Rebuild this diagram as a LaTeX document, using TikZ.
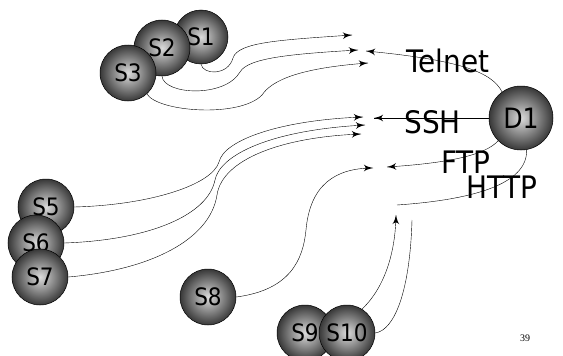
\documentclass[tikz,border=0pt]{standalone}
\usepackage{fontspec}
\usepackage{tikz}
\usetikzlibrary{arrows}
\usetikzlibrary{decorations.markings}
\usetikzlibrary{backgrounds}
\newfontfamily\protofont[FakeStretch=0.9]{DejaVu Sans}
\newfontfamily\pagefont{Liberation Serif}
\tikzset{->/.style = {decoration={markings,
                                  mark=at position 1 with {\arrow[scale=2.3]{latex'}}},
                      postaction={decorate}}}
\tikzset{host/.style = {circle, draw=black, line width=0.5pt, minimum size=56pt, inner sep=0pt,
                        shading=radial, inner color=gray!28, outer color=black!78,
                        font=\protofont\fontsize{24}{24}\selectfont},
         proto/.style = {anchor=base west, inner sep=0pt,
                         font=\protofont\fontsize{31}{31}\selectfont}}

\begin{document}
\begin{tikzpicture}[x=1pt, y=-1pt, line width=0.6pt]
      \useasboundingbox (0, 0) rectangle (563, 356);

      \node [host, minimum size=54pt] (s1) at (201, 37) {S1};
      \node [host] (s2) at (162, 48) {S2};
      \node [host] (s3) at (128, 73) {S3};
      \node [host] (s5) at (46, 207) {S5};
      \node [host] (s6) at (36, 243) {S6};
      \node [host] (s7) at (40, 277) {S7};
      \node [host] (s8) at (208, 297) {S8};
      \node [host] (s9) at (305, 333) {S9};
      \node [host] (s10) at (347, 333) {S10};
      \node [host, minimum size=64pt, font=\protofont\fontsize{28}{28}\selectfont] (d1) at (521, 118) {D1};

      \node [proto] (telnet) at (406, 72) {Telnet};
      \node [proto] (ssh) at (404, 133) {SSH};
      \node [proto] (ftp) at (441, 173) {FTP};
      \node [proto] (http) at (466, 198) {HTTP};
      \node [font=\pagefont\fontsize{10}{10}\selectfont] (pageno) at (525, 338) {39};

      \coordinate (ts1) at (352, 35);
      \coordinate (ts2) at (358, 50);
      \coordinate (ts3) at (368, 63);
      \coordinate (ttelnet) at (366, 51);
      \coordinate (ts5) at (363, 117);
      \coordinate (ts6) at (365, 125);
      \coordinate (ts7) at (361, 134);
      \coordinate (tssh) at (374, 118);
      \coordinate (ts8) at (373, 168);
      \coordinate (tftp) at (387, 167);
      \coordinate (thttp) at (397, 205);
      \coordinate (ts9) at (396, 215);
      \coordinate (ts10) at (412, 220);

      \begin{scope}[on background layer]
      \draw [->] (s1.-90) .. controls (203, 75) and (228, 76) .. (233, 58) .. controls (238, 42) and (280, 40) .. (ts1);
      \draw [->] (s2.-90) .. controls (164, 95) and (225, 98) .. (240, 72) .. controls (248, 58) and (290, 54) .. (ts2);
      \draw [->] (s3.-48) .. controls (158, 112) and (240, 118) .. (262, 95) .. controls (272, 80) and (300, 68) .. (ts3);
      \draw [->] (s5.0) .. controls (150, 205) and (212, 185) .. (219, 162) .. controls (224, 140) and (280, 120) .. (ts5);
      \draw [->] (s6.0) .. controls (150, 240) and (208, 215) .. (215, 180) .. controls (220, 155) and (270, 130) .. (ts6);
      \draw [->] (s7.0) .. controls (150, 270) and (210, 240) .. (217, 195) .. controls (222, 160) and (280, 137) .. (ts7);
      \draw [->] (s8.0) .. controls (290, 290) and (303, 260) .. (306, 230) .. controls (310, 185) and (335, 168) .. (ts8);
      \draw [->] (s9.15) .. controls (365, 318) and (395, 280) .. (ts9);
      \draw [->] (s10.0) .. controls (395, 330) and (410, 290) .. (ts10);

      \draw [->] (d1.126) .. controls (492, 72) and (460, 60) .. (ttelnet);
      \draw [->] (d1.180) -- (tssh);
      \draw [->] (d1.-135) .. controls (485, 155) and (450, 163) .. (tftp);
      \draw [->] (d1.-80) .. controls (528, 185) and (470, 200) .. (thttp);
      \end{scope}
    \end{tikzpicture}
\end{document}
